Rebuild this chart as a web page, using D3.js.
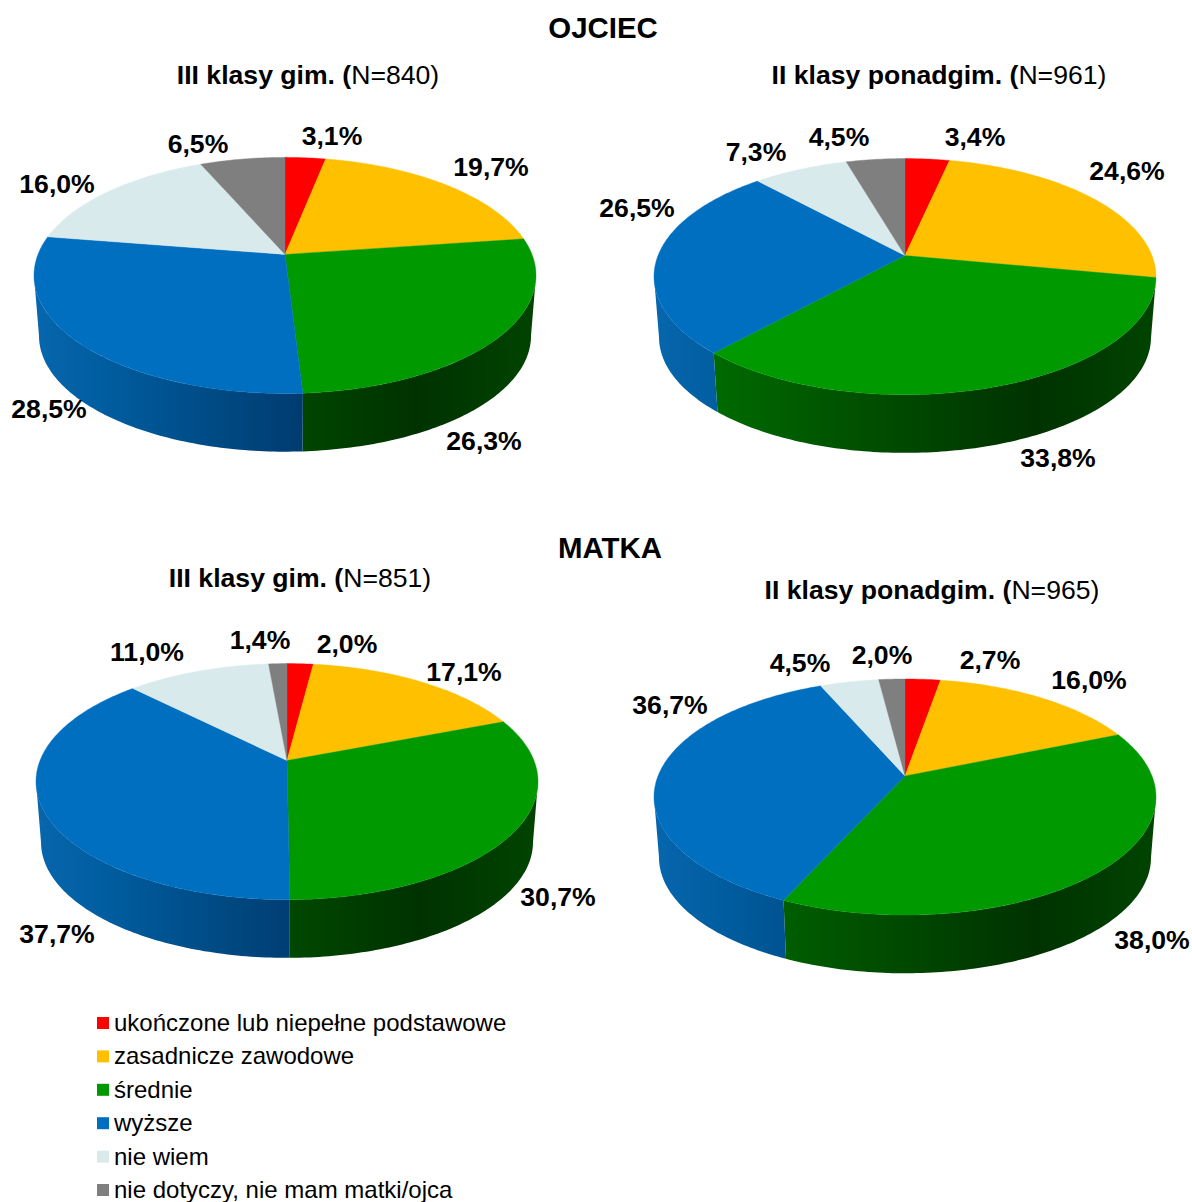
<!DOCTYPE html>
<html>
<head>
<meta charset="utf-8">
<script src="https://cdn.jsdelivr.net/npm/d3@7"></script>
<style>
  html, body { margin: 0; padding: 0; background: #fff; }
  svg { display: block; }
  text { font-family: "Liberation Sans", Arial, sans-serif; fill: #000; }
</style>
</head>
<body>
<script>
var categories = ['ukończone lub niepełne podstawowe', 'zasadnicze zawodowe', 'średnie', 'wyższe', 'nie wiem', 'nie dotyczy, nie mam matki/ojca'];
var colors = ['#ff0000', '#ffc000', '#009900', '#006fc0', '#d9eaed', '#7f7f7f'];

var ojciecGim = [3.1, 19.7, 26.3, 28.5, 16.0, 6.5];
var ojciecPonadgim = [3.4, 24.6, 33.8, 26.5, 7.3, 4.5];
var matkaGim = [2.0, 17.1, 30.7, 37.7, 11.0, 1.4];
var matkaPonadgim = [2.7, 16.0, 38.0, 36.7, 4.5, 2.0];

var headings = [
    { text: 'OJCIEC', x: 603, y: 38 },
    { text: 'MATKA', x: 610, y: 558 }
];

// cx, cy = where the slices meet; the labels were placed by hand in the original
var panels = [
    { values: ojciecGim, group: 'III klasy gim. (', n: 'N=840)', titleX: 308, titleY: 84, cx: 285, cy: 254.4,
      labels: [[332, 136], [491, 167], [484, 441], [49, 409], [57, 184], [198, 144]] },
    { values: ojciecPonadgim, group: 'II klasy ponadgim. (', n: 'N=961)', titleX: 939, titleY: 84, cx: 905, cy: 255.6,
      labels: [[975, 137], [1127, 171], [1058, 458], [637, 208], [756, 152], [839, 137]] },
    { values: matkaGim, group: 'III klasy gim. (', n: 'N=851)', titleX: 300, titleY: 587, cx: 287, cy: 760.6,
      labels: [[347, 644], [464, 672], [558, 897], [57, 934], [147, 652], [260, 640]] },
    { values: matkaPonadgim, group: 'II klasy ponadgim. (', n: 'N=965)', titleX: 932, titleY: 599, cx: 905, cy: 776,
      labels: [[990, 660], [1089, 680], [1152, 940], [670, 705], [800, 663], [882, 655]] }
];

var width = 1192,
    height = 1202;

// perspective of the disc: rim point for an angle, relative to the meeting point
var persp = -0.178,
    radiusX = 247,
    radiusY = 114.3,
    depth = 61,
    bottomScale = 0.98;

// the wall is only seen between the two points where the rim turns back
var wallFrom = Math.acos(persp),
    wallTo = 2 * Math.PI - wallFrom;

var svg = d3.select('body').append('svg')
    .attr('width', width)
    .attr('height', height);

var defs = svg.append('defs');

// wall shading runs left to right across the whole pie
var wallStops = {
    '#009900': [[0, '#007a00'], [0.12, '#006a00'], [0.5, '#004800'], [0.76, '#003200'], [1, '#004400']],
    '#006fc0': [[0, '#0766ad'], [0.15, '#005c9e'], [0.53, '#003c70'], [1, '#003c70']]
};

function rimPoint(angle, scale, dy) {
    var u = Math.sin(angle),
        v = -Math.cos(angle),
        w = 1 + persp * v;
    return [scale * radiusX * u / w, scale * radiusY * v / w + dy];
}

function rimArc(a0, a1, scale, dy) {
    var steps = Math.max(2, Math.ceil((a1 - a0) * 60));
    return d3.range(steps + 1).map(function (i) {
        return rimPoint(a0 + (a1 - a0) * i / steps, scale, dy);
    });
}

var line = d3.line().curve(d3.curveLinear);
var pie = d3.pie().sort(null).value(function (d) { return d; });

panels.forEach(function (panel, p) {
    var g = svg.append('g').attr('transform', 'translate(' + panel.cx + ',' + panel.cy + ')'),
        arcs = pie(panel.values);

    // side wall first
    arcs.forEach(function (d, i) {
        var c = colors[i],
            a0 = Math.max(d.startAngle, wallFrom),
            a1 = Math.min(d.endAngle, wallTo),
            fill = d3.color(c).darker(1.2).formatHex(),
            stops = wallStops[c];
        if (a1 <= a0) {
            return;
        }
        if (stops) {
            fill = 'url(#wall' + p + '-' + i + ')';
            var grad = defs.append('linearGradient')
                .attr('id', 'wall' + p + '-' + i)
                .attr('gradientUnits', 'userSpaceOnUse')
                .attr('x1', -251).attr('x2', 251).attr('y1', 0).attr('y2', 0);
            grad.selectAll('stop').data(stops).enter().append('stop')
                .attr('offset', function (s) { return s[0]; })
                .attr('stop-color', function (s) { return s[1]; });
        }
        var top = rimArc(a0, a1, 1, 0),
            bottom = rimArc(a0, a1, bottomScale, depth).reverse();
        g.append('path')
            .attr('d', line(top.concat(bottom)) + 'Z')
            .attr('fill', fill);
    });

    // top of the disc
    arcs.forEach(function (d, i) {
        g.append('path')
            .attr('d', line([[0, 0]].concat(rimArc(d.startAngle, d.endAngle, 1, 0))) + 'Z')
            .attr('fill', colors[i])
            .attr('stroke', colors[i])
            .attr('stroke-width', 0.4);
    });

    // percent labels
    svg.append('g').selectAll('text').data(panel.values).enter().append('text')
        .attr('x', function (d, i) { return panel.labels[i][0]; })
        .attr('y', function (d, i) { return panel.labels[i][1] + 9; })
        .attr('text-anchor', 'middle')
        .attr('font-size', 26.6)
        .attr('font-weight', 'bold')
        .text(function (d) { return d.toFixed(1).replace('.', ',') + '%'; });

    // subtitle, bold group and plain N
    var title = svg.append('text')
        .attr('x', panel.titleX)
        .attr('y', panel.titleY)
        .attr('text-anchor', 'middle')
        .attr('font-size', 26.6);
    title.append('tspan').attr('font-weight', 'bold').text(panel.group);
    title.append('tspan').text(panel.n);
});

svg.selectAll('.heading').data(headings).enter().append('text')
    .attr('class', 'heading')
    .attr('x', function (d) { return d.x; })
    .attr('y', function (d) { return d.y; })
    .attr('text-anchor', 'middle')
    .attr('font-size', 29.4)
    .attr('font-weight', 'bold')
    .text(function (d) { return d.text; });

// legend
var legendY = d3.scalePoint().domain(categories).range([1023, 1190]);
var legend = svg.selectAll('.legend').data(categories).enter().append('g')
    .attr('class', 'legend')
    .attr('transform', function (d) { return 'translate(97,' + legendY(d) + ')'; });
legend.append('rect')
    .attr('x', 0).attr('y', -6)
    .attr('width', 12).attr('height', 12)
    .attr('fill', function (d, i) { return colors[i]; });
legend.append('text')
    .attr('x', 17)
    .attr('y', 8)
    .attr('font-size', 24)
    .text(function (d) { return d; });
</script>
</body>
</html>
